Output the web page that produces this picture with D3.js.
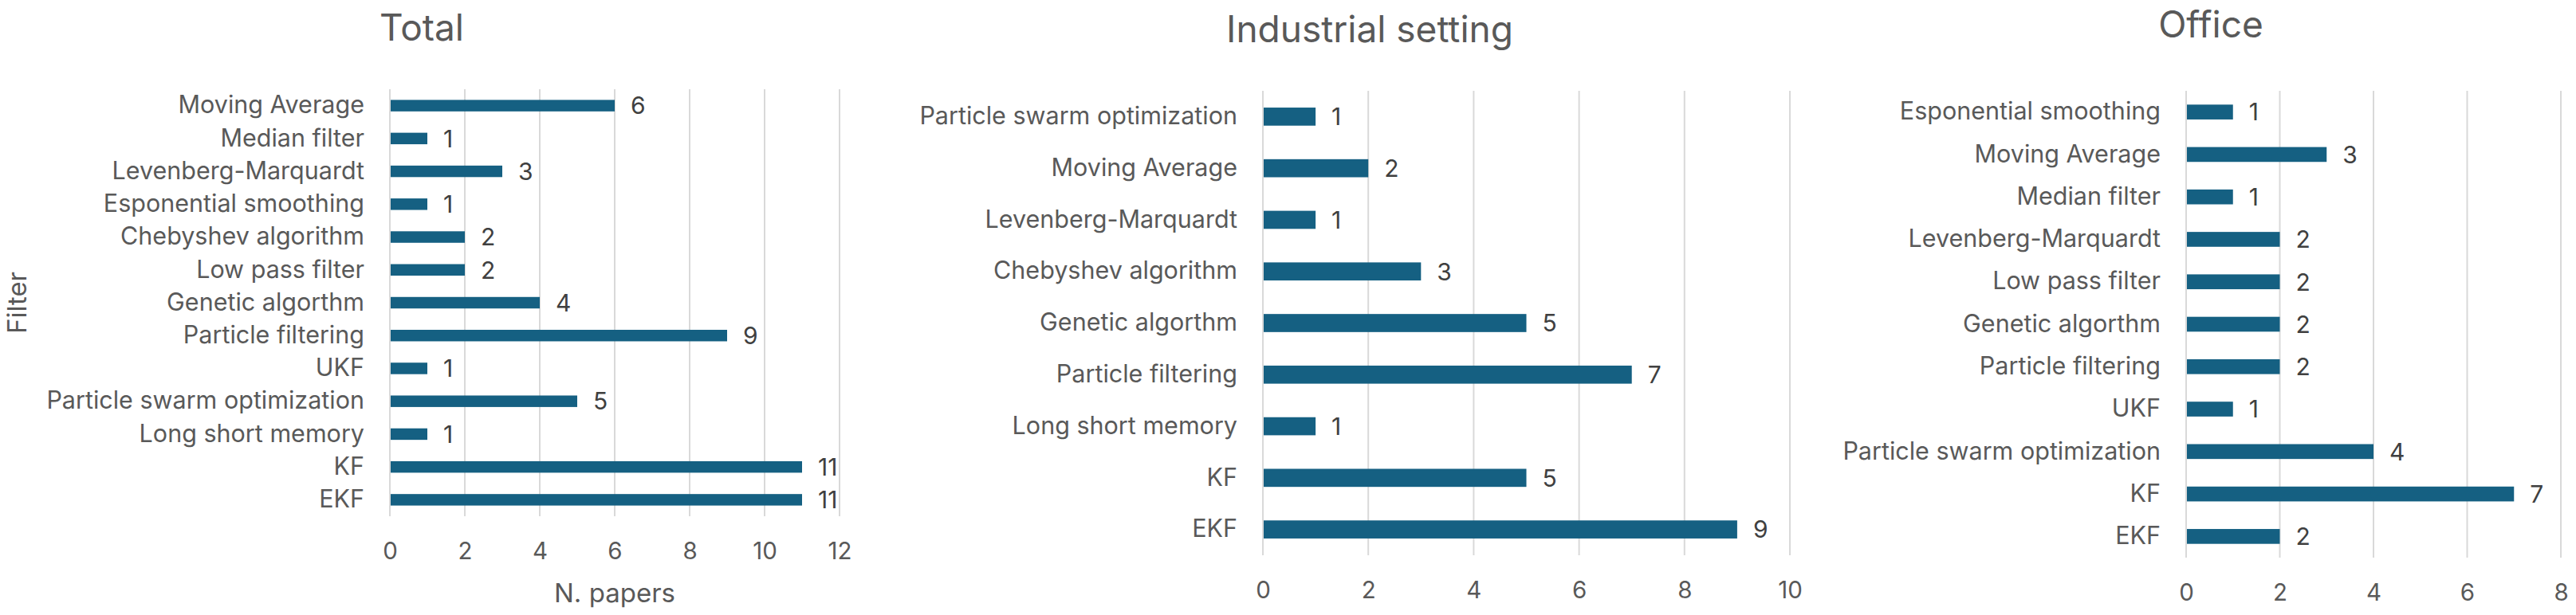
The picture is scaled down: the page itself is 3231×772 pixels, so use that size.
<!DOCTYPE html>
<html>
<head>
<meta charset="utf-8">
<script src="https://cdn.jsdelivr.net/npm/d3@7/dist/d3.min.js"></script>
<style>
  html, body { margin: 0; padding: 0; background: #ffffff; }
  svg { display: block; }
  text { font-family: "Inter", "Lato", sans-serif; }
</style>
</head>
<body>
<svg id="chart" width="3231" height="772"></svg>
<script>
// ---------- DATA ----------
const totalCategories = ["Moving Average", "Median filter", "Levenberg-Marquardt", "Esponential smoothing",
  "Chebyshev algorithm", "Low pass filter", "Genetic algorthm", "Particle filtering", "UKF",
  "Particle swarm optimization", "Long short memory", "KF", "EKF"];
const totalValues = [6, 1, 3, 1, 2, 2, 4, 9, 1, 5, 1, 11, 11];
const totalTicks = [0, 2, 4, 6, 8, 10, 12];

const industrialCategories = ["Particle swarm optimization", "Moving Average", "Levenberg-Marquardt",
  "Chebyshev algorithm", "Genetic algorthm", "Particle filtering", "Long short memory", "KF", "EKF"];
const industrialValues = [1, 2, 1, 3, 5, 7, 1, 5, 9];
const industrialTicks = [0, 2, 4, 6, 8, 10];

const officeCategories = ["Esponential smoothing", "Moving Average", "Median filter", "Levenberg-Marquardt",
  "Low pass filter", "Genetic algorthm", "Particle filtering", "UKF", "Particle swarm optimization", "KF", "EKF"];
const officeValues = [1, 3, 1, 2, 2, 2, 2, 1, 4, 7, 2];
const officeTicks = [0, 2, 4, 6, 8];

const titles = ["Total", "Industrial setting", "Office"];
const xAxisTitle = "N. papers";
const yAxisTitle = "Filter";

// ---------- LAYOUT ----------
const panels = [
  { title: titles[0], cats: totalCategories, vals: totalValues, ticks: totalTicks,
    x0: 489, x1: 1053, y0: 112, y1: 648, titleX: 529, titleY: 51, xTitle: true, yTitle: true },
  { title: titles[1], cats: industrialCategories, vals: industrialValues, ticks: industrialTicks,
    x0: 1584, x1: 2245, y0: 114, y1: 697, titleX: 1718, titleY: 53 },
  { title: titles[2], cats: officeCategories, vals: officeValues, ticks: officeTicks,
    x0: 2742, x1: 3212, y0: 114, y1: 700, titleX: 2773, titleY: 47 }
];

const BAR = "#156082", TXT = "#595959", LBL = "#404040", GRID = "#d9d9d9";
const FONT = '"Inter", "Lato", sans-serif';
const svg = d3.select("#chart");

panels.forEach(p => {
  const g = svg.append("g");
  const dom = p.ticks[p.ticks.length - 1];
  const x = d3.scaleLinear().domain([0, dom]).range([p.x0, p.x1]);
  const y = d3.scaleBand().domain(p.cats).range([p.y0, p.y1]).paddingInner(0.65).paddingOuter(0.325);

  // gridlines
  g.append("g").selectAll("line").data(p.ticks).join("line")
    .attr("x1", d => x(d)).attr("x2", d => x(d))
    .attr("y1", p.y0).attr("y2", p.y1)
    .attr("stroke", GRID).attr("stroke-width", 2);

  // x axis tick labels
  const xAxis = d3.axisBottom(x).tickValues(p.ticks).tickSize(0).tickPadding(0).tickFormat(d3.format("d"));
  const xa = g.append("g").attr("transform", `translate(0,${p.y1})`).call(xAxis);
  xa.select(".domain").remove();
  xa.selectAll("text").attr("y", 43).attr("dy", "0.36em")
    .attr("fill", TXT).style("font-size", "29.5px").style("font-family", FONT);

  // y axis category labels
  const yAxis = d3.axisLeft(y).tickSize(0).tickPadding(32);
  const ya = g.append("g").attr("transform", `translate(${p.x0},0)`).call(yAxis);
  ya.select(".domain").remove();
  ya.selectAll("text").attr("fill", TXT).style("font-size", "30.5px").style("font-family", FONT);

  // bars
  const data = p.cats.map((c, i) => ({ c, v: p.vals[i] }));
  g.append("g").selectAll("rect").data(data).join("rect")
    .attr("x", x(0) + 1).attr("y", d => y(d.c))
    .attr("width", d => x(d.v) - x(0) - 1).attr("height", y.bandwidth())
    .attr("fill", BAR);

  // value labels
  g.append("g").selectAll("text").data(data).join("text")
    .attr("x", d => x(d.v) + 20).attr("y", d => y(d.c) + y.bandwidth() / 2)
    .attr("dy", "0.36em").attr("fill", LBL).style("font-size", "30px")
    .text(d => d.v);

  // title
  g.append("text").attr("x", p.titleX).attr("y", p.titleY)
    .attr("text-anchor", "middle").attr("fill", TXT).style("font-size", "46px")
    .text(p.title);

  if (p.xTitle) {
    g.append("text").attr("x", (p.x0 + p.x1) / 2).attr("y", 756)
      .attr("text-anchor", "middle").attr("fill", TXT).style("font-size", "33px")
      .text(xAxisTitle);
  }
  if (p.yTitle) {
    g.append("text").attr("transform", `translate(33,${(p.y0 + p.y1) / 2}) rotate(-90)`)
      .attr("text-anchor", "middle").attr("fill", TXT).style("font-size", "33px")
      .text(yAxisTitle);
  }
});
</script>
</body>
</html>
